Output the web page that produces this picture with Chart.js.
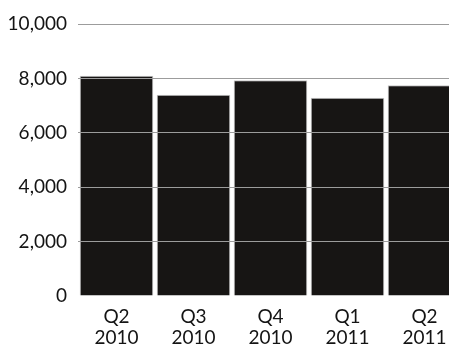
<!DOCTYPE html>
<html lang="en">
<head>
    <meta charset="UTF-8">
    <title>Quarterly bars</title>
    <script src="https://cdn.jsdelivr.net/npm/chart.js"></script>
    <style>
        html, body { margin: 0; padding: 0; overflow: hidden; background: #fff; }
        #wrap { position: relative; width: 463px; height: 345px; }
    </style>
</head>
<body>
    <div id="wrap"><canvas id="chart"></canvas></div>

    <script>
        var quarters = [['Q2', '2010'], ['Q3', '2010'], ['Q4', '2010'], ['Q1', '2011'], ['Q2', '2011']];
        var values = [8100, 7400, 7930, 7290, 7750];
        var yTicks = [0, 2000, 4000, 6000, 8000, 10000];

        var ctx = document.getElementById('chart').getContext('2d');
        var chart = new Chart(ctx, {
            type: 'bar',
            data: {
                labels: quarters,
                datasets: [{
                    data: values,
                    backgroundColor: '#171514',
                    borderColor: '#c4c4c4',
                    borderWidth: 1,
                    barPercentage: 1,
                    categoryPercentage: 0.956
                }]
            },
            options: {
                responsive: true,
                maintainAspectRatio: false,
                animation: false,
                layout: { padding: { top: 24, right: 0, left: 0, bottom: 0 } },
                plugins: { legend: { display: false }, tooltip: { enabled: false } },
                scales: {
                    x: {
                        grid: { display: false },
                        border: { display: false },
                        ticks: {
                            color: '#141414',
                            font: { family: 'Lato', size: 19, lineHeight: 1.13 },
                            padding: 2,
                            maxRotation: 0
                        },
                        afterFit: function (scale) { scale.height = 49; }
                    },
                    y: {
                        min: 0,
                        max: 10000,
                        afterBuildTicks: function (scale) {
                            scale.ticks = yTicks.map(function (v) { return { value: v }; });
                        },
                        grid: {
                            color: function (c) { return c.tick.value === 0 ? 'rgba(0,0,0,0)' : '#9c9c9c'; },
                            lineWidth: 1,
                            drawTicks: false,
                            z: 1
                        },
                        border: { display: false },
                        ticks: {
                            color: '#141414',
                            font: { family: 'Lato', size: 19 },
                            padding: 11,
                            callback: function (v) { return v.toLocaleString('en-US'); }
                        },
                        afterFit: function (scale) { scale.width = 78; }
                    }
                }
            }
        });
    </script>
</body>
</html>
